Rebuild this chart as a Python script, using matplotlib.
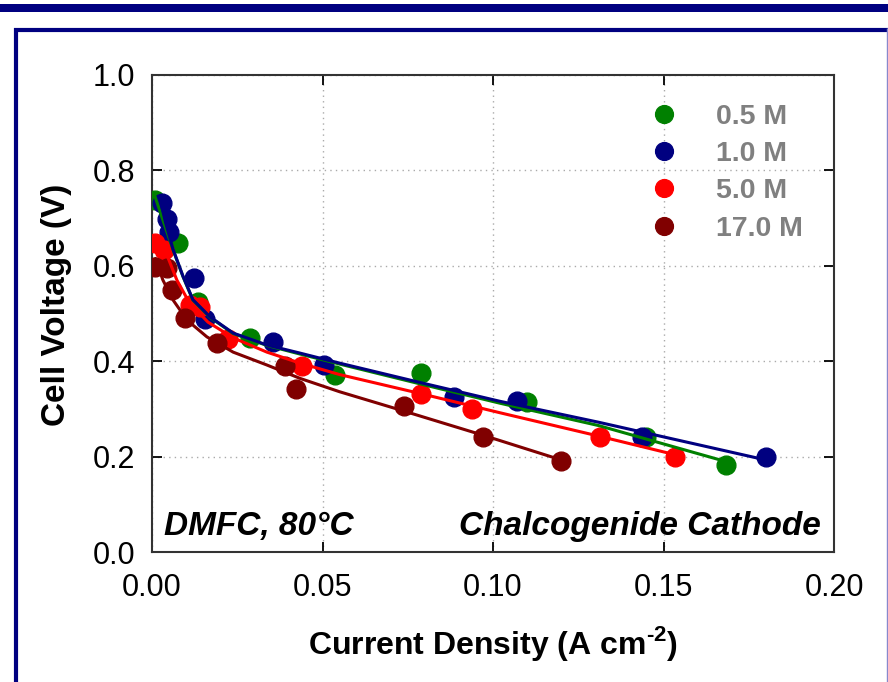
import matplotlib
matplotlib.use("Agg")
import matplotlib.pyplot as plt
from matplotlib.lines import Line2D
from matplotlib.patches import Rectangle

plt.rcParams['font.family'] = ['Liberation Sans', 'DejaVu Sans']
plt.rcParams['mathtext.fontset'] = 'custom'
plt.rcParams['mathtext.rm'] = 'Liberation Sans:bold'
plt.rcParams['mathtext.bf'] = 'Liberation Sans:bold'

# ---- data ----
labels = ["0.5 M", "1.0 M", "5.0 M", "17.0 M"]
colors = ["#008000", "#000080", "#ff0000", "#800000"]

x_05 = [0.0009, 0.0076, 0.0135, 0.0287, 0.0537, 0.0789, 0.110, 0.145, 0.1683]
y_05 = [0.738, 0.648, 0.524, 0.449, 0.372, 0.375, 0.315, 0.241, 0.182]

x_10 = [0.003, 0.0044, 0.005, 0.0123, 0.0155, 0.0355, 0.0505, 0.0887, 0.107, 0.1437, 0.180]
y_10 = [0.731, 0.698, 0.671, 0.574, 0.488, 0.440, 0.391, 0.325, 0.316, 0.241, 0.199]

x_50 = [0.0009, 0.0035, 0.011, 0.014, 0.0223, 0.044, 0.0789, 0.0938, 0.1315, 0.1535]
y_50 = [0.648, 0.633, 0.518, 0.514, 0.447, 0.390, 0.332, 0.300, 0.241, 0.199]

x_170 = [0.0009, 0.0044, 0.0059, 0.0097, 0.019, 0.039, 0.0422, 0.0739, 0.097, 0.120]
y_170 = [0.598, 0.595, 0.549, 0.490, 0.438, 0.389, 0.342, 0.306, 0.241, 0.191]

# fitted curves
fx_05 = [0.0009, 0.003, 0.0062, 0.0091, 0.012, 0.017, 0.0238, 0.0337, 0.0434, 0.055, 0.080, 0.102, 0.131, 0.1686]
fy_05 = [0.745, 0.700, 0.633, 0.577, 0.528, 0.492, 0.458, 0.433, 0.415, 0.394, 0.350, 0.312, 0.265, 0.189]

fx_10 = [0.0025, 0.004, 0.0062, 0.0091, 0.012, 0.017, 0.0238, 0.0337, 0.0434, 0.055, 0.080, 0.102, 0.131, 0.1775]
fy_10 = [0.735, 0.690, 0.634, 0.578, 0.529, 0.493, 0.459, 0.434, 0.417, 0.396, 0.353, 0.316, 0.272, 0.197]

fx_50 = [0.001, 0.0038, 0.0073, 0.011, 0.0164, 0.0238, 0.0337, 0.0434, 0.055, 0.080, 0.102, 0.131, 0.1528]
fy_50 = [0.660, 0.633, 0.570, 0.522, 0.482, 0.449, 0.419, 0.396, 0.372, 0.330, 0.292, 0.243, 0.205]

fx_170 = [0.001, 0.0032, 0.0062, 0.0103, 0.0161, 0.0238, 0.0337, 0.0434, 0.055, 0.0727, 0.097, 0.120]
fy_170 = [0.615, 0.570, 0.528, 0.486, 0.451, 0.419, 0.392, 0.364, 0.336, 0.298, 0.245, 0.193]

xs = [x_05, x_10, x_50, x_170]
ys = [y_05, y_10, y_50, y_170]
fxs = [fx_05, fx_10, fx_50, fx_170]
fys = [fy_05, fy_10, fy_50, fy_170]

x_ticks = [0.0, 0.05, 0.10, 0.15, 0.20]
x_ticklabels = ["0.00", "0.05", "0.10", "0.15", "0.20"]
y_ticks = [0.0, 0.2, 0.4, 0.6, 0.8, 1.0]
y_ticklabels = ["0.0", "0.2", "0.4", "0.6", "0.8", "1.0"]

# ---- figure ----
W, H = 888, 682
fig = plt.figure(figsize=(W / 100, H / 100), dpi=100)

# decorative frame
navy = "#000080"
fig.patches.append(Rectangle((0, 1 - 12 / H), 1, 8 / H, transform=fig.transFigure,
                             facecolor=navy, edgecolor="none", zorder=0))
fig.add_artist(Line2D([14 / W, 1], [1 - 30 / H, 1 - 30 / H], transform=fig.transFigure,
                      color=navy, lw=3.0, solid_capstyle="butt"))
fig.add_artist(Line2D([16 / W, 16 / W], [1 - 28 / H, 0], transform=fig.transFigure,
                      color=navy, lw=3.0, solid_capstyle="butt"))
fig.add_artist(Line2D([886.5 / W, 886.5 / W], [1 - 28 / H, 0], transform=fig.transFigure,
                      color="#8888cc", lw=1.0, solid_capstyle="butt"))

ax = fig.add_axes([152 / W, 1 - 552 / H, (834 - 152) / W, (552 - 75) / H])

for x, y, c, lab in zip(xs, ys, colors, labels):
    ax.plot(x, y, linestyle="none", marker="o", ms=13.5, color=c, mec=c, label=lab, zorder=3)
for fx, fy, c in zip(fxs, fys, colors):
    ax.plot(fx, fy, color=c, lw=2.2, zorder=4, solid_joinstyle="round")

ax.set_xlim(0, 0.20)
ax.set_ylim(0, 1.0)
ax.set_xticks(x_ticks)
ax.set_xticklabels(x_ticklabels)
ax.set_yticks(y_ticks)
ax.set_yticklabels(y_ticklabels)
ax.tick_params(direction="in", length=7, width=1.3, colors="black", labelsize=22,
               top=True, right=True)
ax.tick_params(axis="x", pad=15)
ax.tick_params(axis="y", pad=12)
for s in ax.spines.values():
    s.set_color("#333333")
    s.set_linewidth(1.5)
ax.grid(True, linestyle=(0, (1, 3)), color="#aaaaaa", lw=1.0)
ax.set_axisbelow(True)

ax.set_xlabel("Current Density (A cm$^{\\text{-2}}$)", fontsize=23, fontweight="bold")
ax.set_ylabel("Cell Voltage (V)", fontsize=24, fontweight="bold")
ax.xaxis.set_label_coords(0.5, -0.15)
ax.yaxis.set_label_coords(-0.118, 0.518)

ax.text(0.0176, 0.036, "DMFC, 80\u00b0C", transform=ax.transAxes, fontsize=24,
        fontweight="bold", fontstyle="italic", ha="left", va="baseline")
ax.text(0.981, 0.036, "Chalcogenide Cathode", transform=ax.transAxes, fontsize=24,
        fontweight="bold", fontstyle="italic", ha="right", va="baseline")

leg = ax.legend(loc="upper left", bbox_to_anchor=(0.730, 0.940), frameon=False,
                prop={"weight": "bold", "size": 20.5}, handlelength=1.0,
                handletextpad=1.33, labelspacing=0.40, borderpad=0, borderaxespad=0,
                markerscale=0.95)
for t in leg.get_texts():
    t.set_color("#808080")

fig.savefig("out.png", dpi=100)
